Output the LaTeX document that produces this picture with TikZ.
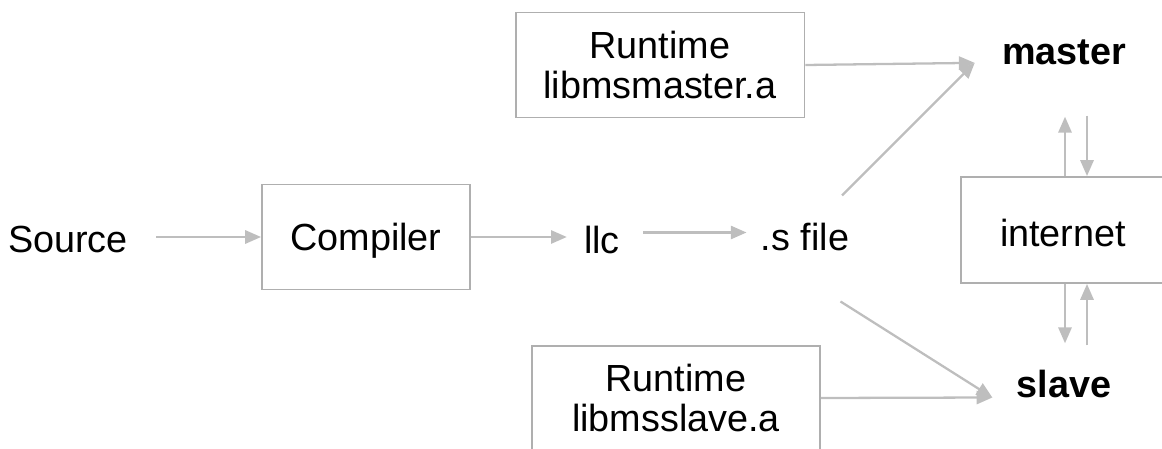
\documentclass[tikz,border=0pt]{standalone}
\usepackage{fontspec}
\setmainfont{Liberation Sans}
\usepackage{tikz}
\usetikzlibrary{arrows.meta, positioning}
\definecolor{linegray}{RGB}{190,190,190}
\definecolor{boxgray}{RGB}{175,175,175}
\tikzstyle{txt}  = [inner sep=0, font=\fontsize{21.5}{22.7}\selectfont]
\tikzstyle{host} = [inner sep=0, font=\fontsize{21.5}{22.7}\selectfont\bfseries]
\tikzstyle{box}  = [draw=boxgray, line width=1.1pt, txt, align=center]
\tikzstyle{arr}  = [draw=linegray, line width=1.3pt, ->, >={Triangle[length=9pt, width=7.5pt]}]

\begin{document}
\begin{tikzpicture}[x=0.02cm, y=-0.02cm]
\useasboundingbox (0,0) rectangle (1162,449);
\clip (0,0) rectangle (1162,449);

% nodes
\node [txt, anchor=base] at ( 68, 252) (source)   {Source};
\node [box, text depth=0pt, minimum width=4.16cm, minimum height=2.1cm] at (366, 237) (compiler) {Compiler};
\node [txt, anchor=base] at (602, 254) (llc)      {llc};
\node [txt, anchor=base] at (805, 250) (sfile)    {.s file};
\node [box, minimum width=5.78cm, minimum height=2.1cm] at (660, 65) (rtmaster) {Runtime\\libmsmaster.a};
\node [box, minimum width=5.76cm, minimum height=2.08cm] at (676, 398) (rtslave) {Runtime\\libmsslave.a};
\node [box, text height=0.66cm, minimum width=4.08cm, minimum height=2.12cm] at (1063, 230) (internet) {internet};
\node [host, anchor=base] at (1064, 65) (master) {master};
\node [host, anchor=base] at (1064, 397) (slave)  {slave};

%  edges
\draw [arr, shorten <=0.56cm] (compiler.west -| source.east) -- (compiler.west);
\draw [arr, shorten >=0.34cm] (compiler.east) -- (compiler.east -| llc.west);
\draw [arr, shorten <=0.46cm, shorten >=0.28cm] ([yshift=0.16cm]llc.east) -- ([yshift=0.16cm]llc.east -| sfile.west);

\draw [arr] (rtmaster.east) -- ([xshift=-0.54cm, yshift=-0.2cm]master.west);
\draw [arr] ([xshift=0.74cm, yshift=0.82cm]sfile.center) -- ([xshift=-0.54cm, yshift=-0.2cm]master.west);

\draw [arr] (rtslave.east) -- ([xshift=-0.48cm, yshift=-0.28cm]slave.west);
\draw [arr] ([xshift=0.71cm, yshift=-1.3cm]sfile.center) -- ([xshift=-0.48cm, yshift=-0.28cm]slave.west);

\draw [arr, shorten >=1.02cm] ([xshift=0.04cm]internet.north) -- ([xshift=0.04cm]internet.north |- master.south);
\draw [arr, shorten <=1.0cm] ([xshift=0.48cm]internet.north |- master.south) -- ([xshift=0.48cm]internet.north);

\draw [arr, shorten >=0.52cm] ([xshift=0.04cm]internet.south) -- ([xshift=0.04cm]internet.south |- slave.north);
\draw [arr, shorten <=0.48cm] ([xshift=0.48cm]internet.south |- slave.north) -- ([xshift=0.48cm]internet.south);

\end{tikzpicture}
\end{document}
